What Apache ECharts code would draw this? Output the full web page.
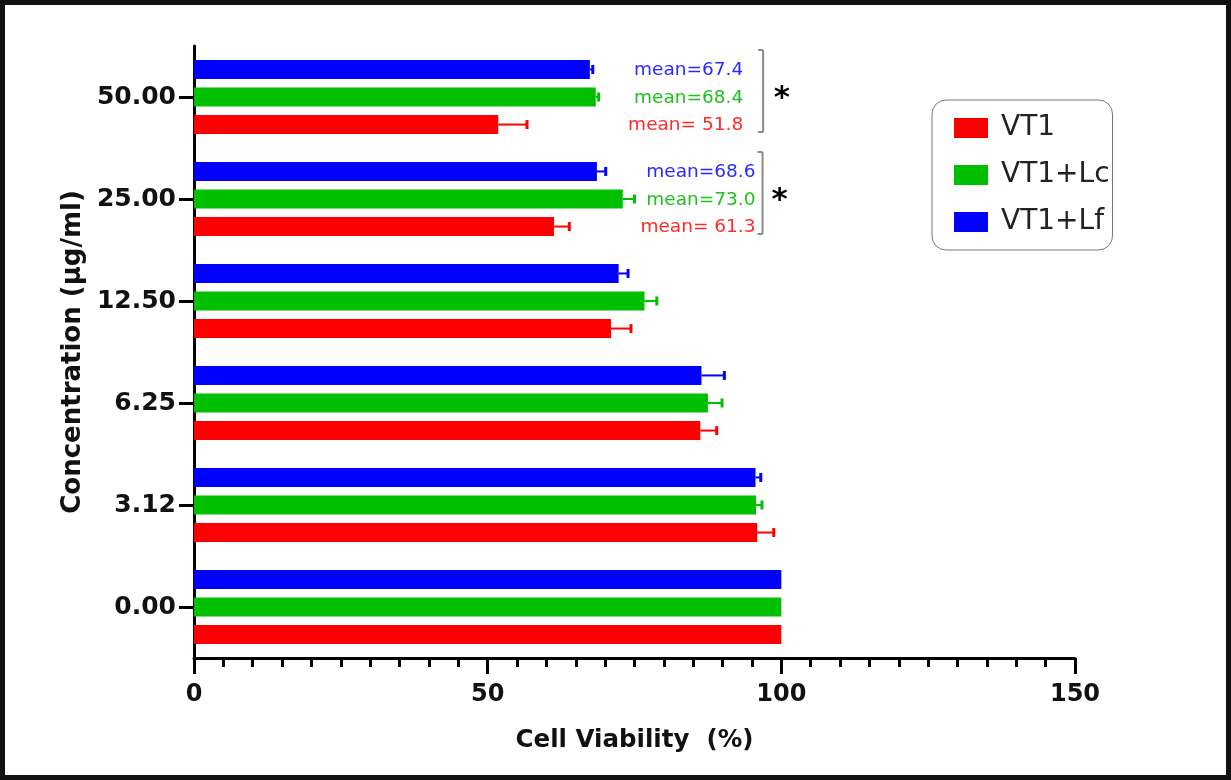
<!DOCTYPE html>
<html>
<head>
<meta charset="utf-8">
<script src="https://cdn.jsdelivr.net/npm/echarts@6/dist/echarts.min.js"></script>
<style>
html,body{margin:0;padding:0;background:#fff;}
#chart{width:1231px;height:780px;}
</style>
</head>
<body>
<div id="chart"></div>
<script>
// ---- data ----
const categories = ['0.00', '3.12', '6.25', '12.50', '25.00', '50.00'];
const seriesNames = ['VT1', 'VT1+Lc', 'VT1+Lf'];
const vt1Mean   = [100, 95.9, 86.2, 71.0, 61.3, 51.8];
const vt1Err    = [0, 2.8, 2.8, 3.4, 2.6, 4.9];
const vt1LcMean = [100, 95.7, 87.5, 76.7, 73.0, 68.4];
const vt1LcErr  = [0, 1.0, 2.4, 2.1, 2.0, 0.5];
const vt1LfMean = [100, 95.6, 86.4, 72.3, 68.6, 67.4];
const vt1LfErr  = [0, 0.9, 3.9, 1.6, 1.5, 0.5];
const annotatedCats = ['25.00', '50.00'];
const xTicks = [0, 50, 100, 150];

// ---- styling ----
const FONT = 'DejaVu Sans';
const colors = { 'VT1': '#ff0000', 'VT1+Lc': '#00bf00', 'VT1+Lf': '#0000ff' };
const textColors = { 'VT1': '#ff2a2a', 'VT1+Lc': '#22c022', 'VT1+Lf': '#2a2aff' };
const BAR_W = 19, BAR_GAP = 0.45;
// drawing order: first series is placed on top within a group (pixel space)
const drawOrder = [
  { name: 'VT1+Lf', mean: vt1LfMean, err: vt1LfErr },
  { name: 'VT1+Lc', mean: vt1LcMean, err: vt1LcErr },
  { name: 'VT1',    mean: vt1Mean,   err: vt1Err }
];
const N = drawOrder.length;
const totalW = N * BAR_W + (N - 1) * BAR_W * BAR_GAP;
function barOffset(i) { return -totalW / 2 + i * BAR_W * (1 + BAR_GAP) + BAR_W / 2; }

// annotation layout per annotated category (x in axis units)
const annotLayout = {
  '50.00': { labelX: 93.5, bracketX: 96.9, starX: 100.1 },
  '25.00': { labelX: 95.6, bracketX: 96.8, starX: 99.7 }
};

const series = [];
drawOrder.forEach(function (s, i) {
  series.push({
    name: s.name,
    type: 'bar',
    barWidth: BAR_W,
    barGap: (BAR_GAP * 100) + '%',
    itemStyle: { color: colors[s.name] },
    data: s.mean,
    z: 2
  });
});
drawOrder.forEach(function (s, i) {
  const off = barOffset(i);
  const col = colors[s.name];
  series.push({
    type: 'custom',
    name: s.name + ' err',
    z: 3,
    silent: true,
    encode: { x: [1, 2], y: 0 },
    data: categories.map(function (c, k) { return [k, s.mean[k], s.err[k]]; }),
    renderItem: function (params, api) {
      const err = api.value(2);
      if (!err) return null;
      const cat = api.value(0);
      const a = api.coord([api.value(1), cat]);
      const b = api.coord([api.value(1) + err, cat]);
      const y = a[1] + off;
      return {
        type: 'group',
        children: [
          { type: 'line', shape: { x1: a[0], y1: y, x2: b[0], y2: y }, style: { stroke: col, lineWidth: 2 } },
          { type: 'line', shape: { x1: b[0], y1: y - 4.5, x2: b[0], y2: y + 4.5 }, style: { stroke: col, lineWidth: 3 } }
        ]
      };
    }
  });
});

// annotations: mean labels, bracket, asterisk
series.push({
  type: 'custom',
  name: 'annot',
  z: 4,
  silent: true,
  encode: { x: 1, y: 0 },
  data: annotatedCats.map(function (c) { return [categories.indexOf(c), 0]; }),
  renderItem: function (params, api) {
    const k = api.value(0);
    const cat = categories[k];
    const L = annotLayout[cat];
    const children = [];
    drawOrder.forEach(function (s, i) {
      const p = api.coord([L.labelX, k]);
      const v = s.mean[k].toFixed(1);
      children.push({
        type: 'text',
        style: {
          x: p[0], y: p[1] + barOffset(i) + 1,
          text: s.name === 'VT1' ? 'mean= ' + v : 'mean=' + v,
          fill: textColors[s.name],
          font: '18.5px "' + FONT + '"',
          align: 'right', verticalAlign: 'middle'
        }
      });
    });
    const bp = api.coord([L.bracketX, k]);
    const top = bp[1] - 47, bot = bp[1] + 35;
    children.push({ type: 'line', shape: { x1: bp[0], y1: top, x2: bp[0], y2: bot }, style: { stroke: '#8a8a8a', lineWidth: 2 } });
    children.push({ type: 'line', shape: { x1: bp[0] - 5, y1: top, x2: bp[0], y2: top }, style: { stroke: '#8a8a8a', lineWidth: 2 } });
    children.push({ type: 'line', shape: { x1: bp[0] - 5, y1: bot, x2: bp[0], y2: bot }, style: { stroke: '#8a8a8a', lineWidth: 2 } });
    const sp = api.coord([L.starX, k]);
    children.push({
      type: 'text',
      style: {
        x: sp[0], y: sp[1] + 2, text: '*', fill: '#000',
        font: 'bold 31px "' + FONT + '"', align: 'center', verticalAlign: 'middle'
      }
    });
    return { type: 'group', children: children };
  }
});

const chart = echarts.init(document.getElementById('chart'), null, { renderer: 'canvas' });
chart.setOption({
  backgroundColor: '#ffffff',
  animation: false,
  textStyle: { fontFamily: FONT },
  graphic: [{
    type: 'rect', silent: true, z: 0,
    shape: { x: 2.5, y: 2.5, width: 1226, height: 775 },
    style: { fill: 'none', stroke: '#111', lineWidth: 5 }
  }],
  grid: { left: 194, right: 156, top: 46, bottom: 122, containLabel: false },
  legend: {
    data: seriesNames,
    orient: 'vertical',
    left: 932, top: 100,
    padding: [14, 3, 14, 22],
    itemWidth: 34, itemHeight: 20, itemGap: 19,
    icon: 'rect',
    borderColor: '#777', borderWidth: 1, borderRadius: 14,
    textStyle: { fontFamily: FONT, fontSize: 28, color: '#222', padding: [0, 0, 0, 8] }
  },
  xAxis: {
    type: 'value',
    min: xTicks[0], max: xTicks[xTicks.length - 1], interval: 50,
    name: 'Cell Viability  (%)',
    nameLocation: 'middle', nameGap: 70,
    nameTextStyle: { fontFamily: FONT, fontSize: 24.5, fontWeight: 'bold', color: '#111' },
    axisLine: { show: true, lineStyle: { color: '#000', width: 3 } },
    axisTick: { show: true, length: 16, lineStyle: { color: '#000', width: 3 } },
    minorTick: { show: true, splitNumber: 10, length: 9, lineStyle: { color: '#000', width: 3 } },
    splitLine: { show: false },
    axisLabel: { fontFamily: FONT, fontSize: 24, fontWeight: 'bold', color: '#111', margin: 25 }
  },
  yAxis: {
    type: 'category',
    data: categories,
    name: 'Concentration (µg/ml)',
    nameLocation: 'middle', nameGap: 104,
    nameTextStyle: { fontFamily: FONT, fontSize: 26, fontWeight: 'bold', color: '#111' },
    axisLine: { show: true, lineStyle: { color: '#000', width: 3 } },
    axisTick: { show: true, alignWithLabel: true, length: 15, lineStyle: { color: '#000', width: 3 } },
    axisLabel: { fontFamily: FONT, fontSize: 25, fontWeight: 'bold', color: '#111', margin: 18 },
    splitLine: { show: false }
  },
  series: series
});
</script>
</body>
</html>
